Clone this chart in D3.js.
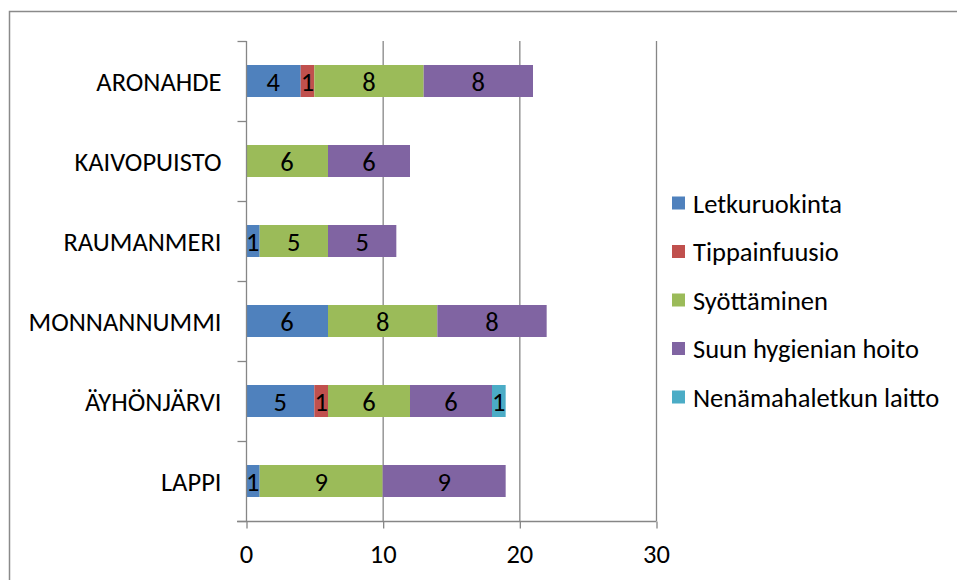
<!DOCTYPE html>
<html>
<head>
<meta charset="utf-8">
<script src="https://cdn.jsdelivr.net/npm/d3@7"></script>
<style>
  html, body { margin: 0; padding: 0; background: #fff; }
  svg { display: block; }
  text { font-family: Carlito, Lato, "Open Sans", sans-serif; fill: #000; }
</style>
</head>
<body>
<svg id="chart" width="957" height="580"></svg>
<script>
const categories = ["ARONAHDE", "KAIVOPUISTO", "RAUMANMERI", "MONNANNUMMI", "ÄYHÖNJÄRVI", "LAPPI"];
const seriesNames = ["Letkuruokinta", "Tippainfuusio", "Syöttäminen", "Suun hygienian hoito", "Nenämahaletkun laitto"];
const letkuruokinta = [4, 0, 1, 6, 5, 1];
const tippainfuusio = [1, 0, 0, 0, 1, 0];
const syottaminen   = [8, 6, 5, 8, 6, 9];
const suunHygienia  = [8, 6, 5, 8, 6, 9];
const nenamahaletku = [0, 0, 0, 0, 1, 0];
const xTicks = [0, 10, 20, 30];
const colors = ["#4F81BD", "#C0504D", "#9BBB59", "#8064A2", "#4BACC6"];

const seriesValues = [letkuruokinta, tippainfuusio, syottaminen, suunHygienia, nenamahaletku];
const rows = categories.map((c, i) => {
  const r = { category: c };
  seriesNames.forEach((s, j) => r[s] = seriesValues[j][i]);
  return r;
});
const stacked = d3.stack().keys(seriesNames)(rows);

const svg = d3.select("#chart");
const gridColor = "#868686";
const fontSize = 26.5;

// outer border
svg.append("rect").attr("x", 9.5).attr("y", 11.5).attr("width", 1000).attr("height", 1000)
  .attr("fill", "none").attr("stroke", "#8a8a8a").attr("stroke-width", 1.5);

const x = d3.scaleLinear().domain([0, 30]).range([246, 656]);
const y = d3.scaleBand().domain(categories).range([41, 521]).paddingInner(0.6).paddingOuter(0.3);

// vertical gridlines
svg.append("g").selectAll("line").data(xTicks.filter(t => t > 0)).join("line")
  .attr("x1", d => x(d) + 0.5).attr("x2", d => x(d) + 0.5)
  .attr("y1", 41).attr("y2", 521)
  .attr("stroke", gridColor).attr("stroke-width", 1.3);

// bars
const layer = svg.append("g").selectAll("g").data(stacked).join("g")
  .attr("fill", (d, i) => colors[i]);
layer.selectAll("rect").data(d => d.map(p => ({ p, cat: p.data.category }))).join("rect")
  .attr("x", d => x(d.p[0]))
  .attr("y", d => y(d.cat))
  .attr("width", d => x(d.p[1]) - x(d.p[0]))
  .attr("height", y.bandwidth());

// data labels
const labels = [];
stacked.forEach((s) => s.forEach(p => {
  const v = p[1] - p[0];
  if (v > 0) labels.push({ v, mid: (p[0] + p[1]) / 2, cat: p.data.category });
}));
svg.append("g").selectAll("text").data(labels).join("text")
  .attr("x", d => x(d.mid))
  .attr("y", d => y(d.cat) + y.bandwidth() / 2)
  .attr("dy", "0.36em")
  .attr("text-anchor", "middle")
  .attr("font-size", fontSize)
  .text(d => d.v);

// x axis
const xAxis = svg.append("g").attr("transform", "translate(0,521.5)")
  .call(d3.axisBottom(x).tickValues(xTicks).tickSize(7).tickPadding(16).tickFormat(d3.format("d")));
xAxis.select(".domain").attr("d", `M237,0H${x(30) + 0.5}`).attr("stroke", gridColor).attr("stroke-width", 1.3);
xAxis.selectAll(".tick line").attr("stroke", gridColor).attr("stroke-width", 1.3).attr("transform", "translate(0.5,0)");
xAxis.selectAll(".tick text").attr("font-size", fontSize).attr("font-family", null);

// y axis
const yAxis = svg.append("g").attr("transform", "translate(246.5,0)")
  .call(d3.axisLeft(y).tickSize(0).tickPadding(25));
yAxis.select(".domain").attr("d", "M0,41V521").attr("stroke", gridColor).attr("stroke-width", 1.3);
yAxis.selectAll(".tick text").attr("font-size", fontSize).attr("font-family", null).attr("dy", "0.36em");
// category boundary ticks
const boundaries = categories.map(c => y(c) - y.step() * y.paddingInner() / 2).concat([521]);
boundaries[0] = 41;
yAxis.append("g").selectAll("line").data(boundaries).join("line")
  .attr("x1", -9).attr("x2", 0)
  .attr("y1", d => Math.round(d) + 0.5).attr("y2", d => Math.round(d) + 0.5)
  .attr("stroke", gridColor).attr("stroke-width", 1.3);

// legend
const legend = svg.append("g").selectAll("g").data(seriesNames).join("g")
  .attr("transform", (d, i) => `translate(672, ${203 + i * 48.5})`);
legend.append("rect").attr("x", 0).attr("y", -6.5).attr("width", 13).attr("height", 13)
  .attr("fill", (d, i) => colors[i]);
legend.append("text").attr("x", 21).attr("dy", "0.36em").attr("font-size", fontSize).text(d => d);
</script>
</body>
</html>
